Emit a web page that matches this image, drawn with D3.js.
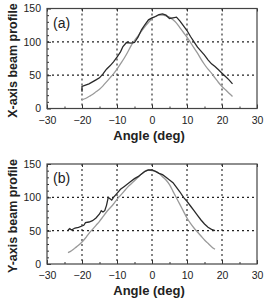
<!DOCTYPE html>
<html>
<head>
<meta charset="utf-8">
<script src="https://cdn.jsdelivr.net/npm/d3@7"></script>
<style>
  body { margin: 0; background: #fff; }
  text { font-family: "Liberation Sans", Arial, sans-serif; fill: #222; }
</style>
</head>
<body>
<div id="chart"></div>
<script>
// Panel (a): X-axis beam profile
const angleAMeas = [-20, -20, -19, -18, -17, -16, -15, -14, -13, -12, -11, -10, -9, -8.3, -7.3, -6, -5, -4, -3, -2, -1, 0, 1, 2, 3, 4, 5, 6, 7, 8, 9, 10, 11, 12, 13, 14, 15, 16, 17, 18, 19, 20, 21, 22, 23];
const profAMeas  = [25, 33, 35, 37, 40, 43, 46, 52, 59, 64, 70, 77, 85, 93, 99, 98, 99, 107, 118, 126, 133, 136, 138, 141, 142, 140, 135, 136, 137, 131, 124, 117, 108, 100, 92, 86, 80, 73, 67, 63, 58, 53, 48, 43, 37];
const angleAFit = [-20, -19, -18, -17, -16, -15, -14, -13, -12, -11, -10, -9, -8, -7, -6, -5, -4, -3, -2, -1, 0, 1, 2, 3, 4, 5, 6, 7, 8, 9, 10, 11, 12, 13, 14, 15, 16, 17, 18, 19, 20, 21, 22, 23];
const profAFit  = [13, 15, 18, 21, 25, 29, 34, 40, 46, 52, 59, 67, 75, 84, 94, 102, 109, 116, 123, 129, 135, 138, 140, 140, 139, 137, 133, 128, 121, 114, 107, 99, 91, 83, 74, 66, 59, 53, 46, 39, 33, 28, 23, 18];

// Panel (b): Y-axis beam profile
const angleBMeas = [-24, -23.5, -23, -22, -21, -20, -19.5, -19, -18, -17, -16, -15, -14.5, -14, -13.5, -13, -12.5, -12, -11.5, -11, -10, -9, -8, -7, -6, -5, -4, -3, -2, -1, 0, 1, 2, 3, 4, 5, 6, 7, 8, 9, 10, 11, 12, 13, 14, 15, 16, 17, 18];
const profBMeas  = [51, 53, 51, 54, 55, 57, 58, 62, 63, 65, 69, 75, 80, 78, 80, 88, 100, 98, 96, 100, 106, 112, 116, 120, 124, 128, 131, 135, 139, 141, 141, 139, 136, 134, 130, 126, 122, 115, 108, 100, 94, 87, 80, 73, 66, 60, 55, 52, 50];
const angleBFit = [-24, -23, -22, -21, -20, -19, -18, -17, -16, -15, -14, -13, -12, -11, -10, -9, -8, -7, -6, -5, -4, -3, -2, -1, 0, 1, 2, 3, 4, 5, 6, 7, 8, 9, 10, 11, 12, 13, 14, 15, 16, 17, 18];
const profBFit  = [17, 20, 24, 28, 33, 39, 46, 52, 58, 64, 71, 78, 84, 90, 97, 103, 109, 115, 120, 125, 130, 135, 139, 141, 140, 139, 136, 131, 126, 119, 109, 99, 89, 79, 69, 61, 54, 48, 42, 36, 31, 26, 22];

const xTicks = [-30, -20, -10, 0, 10, 20, 30];
const yTicks = [0, 50, 100, 150];

const svg = d3.select("#chart")
  .append("svg")
    .attr("width", 266)
    .attr("height", 303);

function drawPanel(top, tag, yTitle, angMeas, valMeas, angFit, valFit) {
  const left = 47, right = 257, plotH = 100;

  const x = d3.scaleLinear().domain([-30, 30]).range([left, right]);
  const y = d3.scaleLinear().domain([0, 150]).range([top + plotH, top]);

  const g = svg.append("g");

  // dotted grid
  g.selectAll(".vgrid")
    .data(xTicks.slice(1, -1))
    .enter().append("line")
      .attr("x1", d => x(d)).attr("x2", d => x(d))
      .attr("y1", top).attr("y2", top + plotH)
      .attr("stroke", "#222").attr("stroke-width", 1.1)
      .attr("stroke-dasharray", "2,3");
  g.selectAll(".hgrid")
    .data([50, 100])
    .enter().append("line")
      .attr("x1", left).attr("x2", right)
      .attr("y1", d => y(d)).attr("y2", d => y(d))
      .attr("stroke", "#222").attr("stroke-width", 1.1)
      .attr("stroke-dasharray", "2,3");

  // axes with inward ticks
  const xMinor = d3.range(-25, 30, 10);
  g.append("g")
    .attr("transform", `translate(0,${top + plotH})`)
    .call(d3.axisBottom(x).tickValues(xTicks).tickSizeInner(-4).tickSizeOuter(0).tickPadding(8))
    .call(a => a.select(".domain").remove())
    .call(a => a.selectAll("text").style("font-size", "10.5px"));
  g.append("g")
    .attr("transform", `translate(0,${top + plotH})`)
    .call(d3.axisBottom(x).tickValues(xMinor).tickSize(-2).tickFormat(""))
    .call(a => a.select(".domain").remove());
  g.append("g")
    .attr("transform", `translate(0,${top})`)
    .call(d3.axisTop(x).tickValues(xTicks).tickSize(-3).tickFormat(""))
    .call(a => a.select(".domain").remove());

  g.append("g")
    .attr("transform", `translate(${left},0)`)
    .call(d3.axisLeft(y).tickValues(yTicks).tickSizeInner(-4).tickSizeOuter(0).tickPadding(6))
    .call(a => a.select(".domain").remove())
    .call(a => a.selectAll("text").style("font-size", "10.5px"));
  g.append("g")
    .attr("transform", `translate(${left},0)`)
    .call(d3.axisLeft(y).tickValues(d3.range(10, 150, 10)).tickSize(-2).tickFormat(""))
    .call(a => a.select(".domain").remove());
  g.selectAll(".tick line").attr("stroke", "#333");

  // frame
  g.append("rect")
    .attr("x", left).attr("y", top)
    .attr("width", right - left).attr("height", plotH)
    .attr("fill", "none").attr("stroke", "#444").attr("stroke-width", 1.2);

  // fitted curve (gray) and measured curve (dark)
  const fitPts = angFit.map((a, i) => [a, valFit[i]]);
  const measPts = angMeas.map((a, i) => [a, valMeas[i]]);
  g.append("path")
    .datum(fitPts)
    .attr("fill", "none").attr("stroke", "#9a9a9a").attr("stroke-width", 1.3)
    .attr("d", d3.line().x(d => x(d[0])).y(d => y(d[1])).curve(d3.curveMonotoneX));
  g.append("path")
    .datum(measPts)
    .attr("fill", "none").attr("stroke", "#2a2a2a").attr("stroke-width", 1.3)
    .attr("d", d3.line().x(d => x(d[0])).y(d => y(d[1])));

  // panel tag
  g.append("text")
    .attr("x", 53).attr("y", top + 19)
    .style("font-size", "14px")
    .text(tag);

  // axis titles
  g.append("text")
    .attr("x", (left + right) / 2 - 3).attr("y", top + plotH + 31)
    .attr("text-anchor", "middle")
    .style("font-size", "13px").style("font-weight", "bold")
    .text("Angle (deg)");
  g.append("text")
    .attr("transform", `translate(16.5,${top + plotH / 2 + 2}) rotate(-90)`)
    .attr("text-anchor", "middle")
    .style("font-size", "12.5px").style("font-weight", "bold")
    .text(yTitle);
}

drawPanel(8.5, "(a)", "X-axis beam profile", angleAMeas, profAMeas, angleAFit, profAFit);
drawPanel(164, "(b)", "Y-axis beam profile", angleBMeas, profBMeas, angleBFit, profBFit);
</script>
</body>
</html>
